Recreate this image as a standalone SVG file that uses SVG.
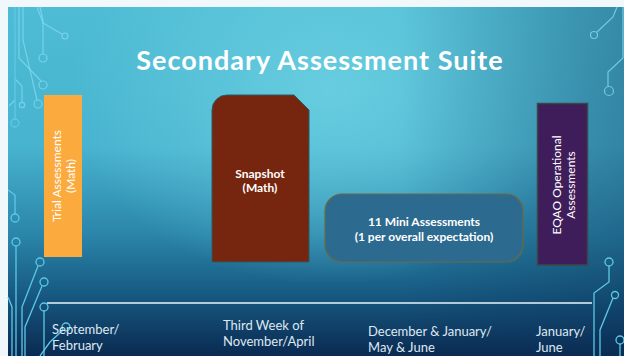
<svg xmlns="http://www.w3.org/2000/svg" width="624" height="356" viewBox="0 0 624 356">
<defs>
<linearGradient id="bgV" x1="0" y1="7" x2="0" y2="356" gradientUnits="userSpaceOnUse">
<stop offset="0" stop-color="#4dbcd4"/>
<stop offset="0.4" stop-color="#48b3cf"/>
<stop offset="0.65" stop-color="#2b86aa"/>
<stop offset="0.82" stop-color="#175a82"/>
<stop offset="1" stop-color="#0a2a52"/>
</linearGradient>
<radialGradient id="hl" cx="330" cy="90" r="260" gradientUnits="userSpaceOnUse" gradientTransform="translate(330 90) scale(1 0.75) translate(-330 -90)">
<stop offset="0" stop-color="#6fd2e3" stop-opacity="0.8"/>
<stop offset="1" stop-color="#6fd2e3" stop-opacity="0"/>
</radialGradient>
<linearGradient id="rside" x1="400" y1="0" x2="624" y2="0" gradientUnits="userSpaceOnUse">
<stop offset="0" stop-color="#0b2f55" stop-opacity="0"/>
<stop offset="1" stop-color="#0b2f55" stop-opacity="0.35"/>
</linearGradient>
<style>
.ckt{fill:none;stroke:#5cc9e6;stroke-width:1.3}
.ckl{fill:none;stroke:#7fd9ee;stroke-width:1.2;opacity:0.8}
.lbl{font-family:Lato,"Liberation Sans",sans-serif;font-size:13px;fill:#dfe8f1}
.box{font-family:Lato,"Liberation Sans",sans-serif;font-size:12px;fill:#ffffff;text-anchor:middle}
.bold{font-weight:bold}
</style>
</defs>
<rect x="0" y="0" width="624" height="356" fill="#f0f8fb"/>
<rect x="8" y="7" width="616" height="349" fill="url(#bgV)"/>
<rect x="8" y="7" width="616" height="349" fill="url(#hl)"/>
<rect x="8" y="7" width="616" height="349" fill="url(#rside)"/>

<g id="circuits">
<path class="ckl" d="M37,7 L43,23 L62,34"/>
<circle class="ckl" cx="65" cy="36" r="3"/>
<path class="ckl" d="M40,7 L43,20 L43,54"/>
<circle class="ckl" cx="43" cy="58" r="4"/>
<path class="ckl" d="M19,7 L19,58 L41,81"/>
<circle class="ckl" cx="43" cy="85" r="4"/>
<path class="ckl" d="M23,7 L23,40 L37,100"/>
<circle class="ckl" cx="38" cy="104" r="4"/>
<path class="ckl" d="M15,79 L22,86 L22,102"/>
<circle class="ckl" cx="22" cy="105" r="2.7"/>
<path class="ckl" d="M9,106 L15,100"/>
<path class="ckt" d="M15,7 L15,119" stroke="#6fe0f2"/>
<circle class="ckt" cx="15" cy="123" r="4"/>
<path class="ckt" d="M8,190 L15,195 L15,214"/>
<circle class="ckt" cx="15" cy="218" r="4"/>
<circle class="ckt" cx="16" cy="242" r="4"/>
<path class="ckt" d="M16,246 L16,356" stroke="#6fe0f2" stroke-width="1.6"/>
<circle class="ckt" cx="40" cy="262" r="4"/>
<path class="ckt" d="M38,266 L22,307 L22,356"/>
<circle class="ckt" cx="44" cy="282" r="4"/>
<path class="ckt" d="M42,286 L25,327 L25,356"/>
<circle class="ckt" cx="44" cy="307" r="4"/>
<path class="ckt" d="M44,311 L44,356"/>
<path class="ckt" d="M8,297 L12,307 L12,356"/>
<circle class="ckt" cx="66" cy="327" r="4"/>
<path class="ckt" d="M63,330 L50,342 L40,356"/>
<path class="ckl" d="M617,7 L613,17 L597,32"/>
<circle class="ckl" cx="594" cy="35" r="3.5"/>
<path class="ckl" d="M623,7 L623,58 L608,72 L608,86"/>
<circle class="ckl" cx="609" cy="91" r="4.5"/>
<circle class="ckt" cx="609" cy="262" r="4"/>
<path class="ckt" d="M609,266 L609,282 L594,293 L594,356"/>
<circle class="ckt" cx="615" cy="295" r="3.5"/>
<path class="ckt" d="M613,298 L600,330 L600,356"/>
<circle class="ckt" cx="620" cy="340" r="4"/>
<path class="ckt" d="M620,344 L620,356"/>
</g>

<g id="title">
<text x="320" y="70" font-family="Lato,'Liberation Sans',sans-serif" font-size="27" font-weight="bold" fill="#ffffff" text-anchor="middle" letter-spacing="1">Secondary Assessment Suite</text>
</g>

<g id="connectors">
<line x1="47" y1="303" x2="592" y2="303" stroke="#e8f4fa" stroke-width="1.5"/>
</g>

<g id="trial">
<rect x="44" y="95" width="38" height="162" fill="#fbaa3e"/>
<text class="box" transform="translate(63,176) rotate(-90)"><tspan x="0" y="-2">Trial Assessments</tspan><tspan x="0" y="12">(Math)</tspan></text>
</g>

<g id="snapshot">
<path d="M227,95 L294,95 L309,110 L309,262 L212,262 L212,110 A15,15 0 0 1 227,95 Z" fill="#76260e" stroke="#2c5b66" stroke-width="1"/>
<text class="box bold" x="260" y="178">Snapshot</text>
<text class="box bold" x="260" y="192">(Math)</text>
</g>

<g id="mini">
<rect x="325" y="194" width="198" height="68" rx="17" ry="17" fill="#2d6a8f" stroke="#6a6a40" stroke-width="1.2"/>
<text class="box bold" x="424" y="226">11 Mini Assessments</text>
<text class="box bold" x="424" y="241">(1 per overall expectation)</text>
</g>

<g id="eqao">
<rect x="537.5" y="103.5" width="50" height="161.5" fill="#3f1c5a" stroke="#3a4848" stroke-width="1.5"/>
<text class="box" transform="translate(562,185) rotate(-90)"><tspan x="0" y="-1">EQAO Operational</tspan><tspan x="0" y="13">Assessments</tspan></text>
</g>

<g id="labels">
<text class="lbl" x="52" y="334">September/</text>
<text class="lbl" x="52" y="350">February</text>
<text class="lbl" x="223" y="330">Third Week of</text>
<text class="lbl" x="223" y="346">November/April</text>
<text class="lbl" x="368" y="336">December &amp; January/</text>
<text class="lbl" x="368" y="352">May &amp; June</text>
<text class="lbl" x="536" y="336">January/</text>
<text class="lbl" x="536" y="352">June</text>
</g>
</svg>
